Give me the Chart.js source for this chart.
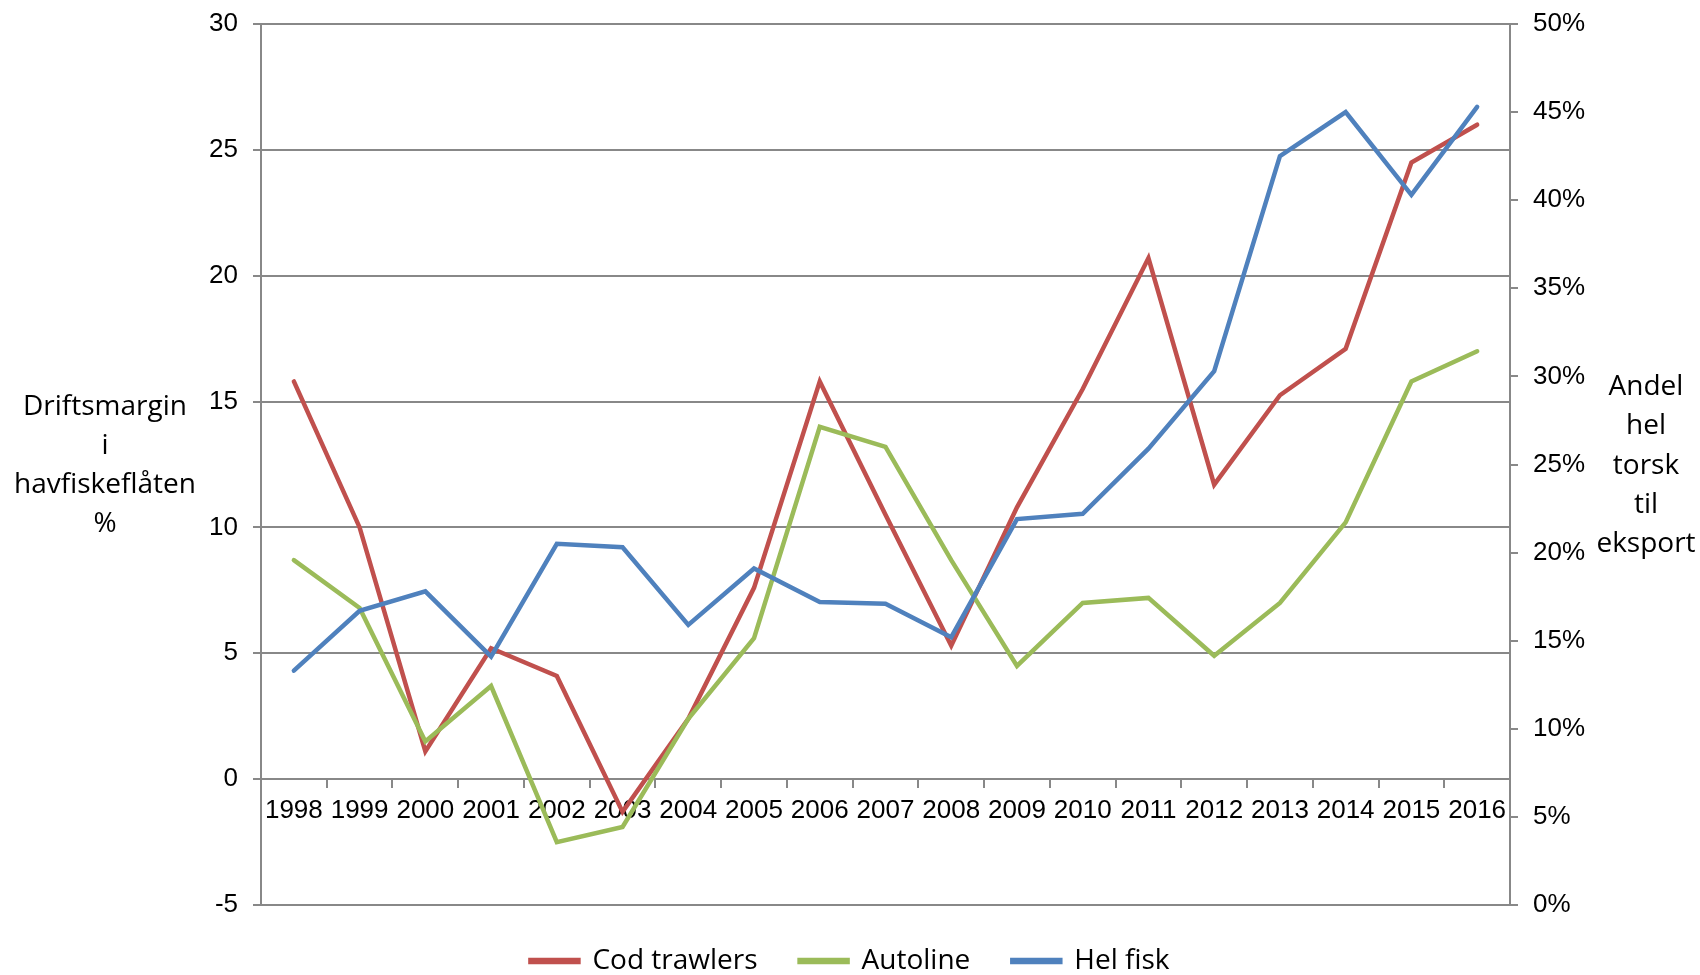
<!DOCTYPE html>
<html>
<head>
<meta charset="utf-8">
<title>Driftsmargin og andel hel torsk</title>
<script src="https://cdn.jsdelivr.net/npm/chart.js@4/dist/chart.umd.min.js"></script>
<style>
  html, body { margin: 0; padding: 0; background: #fff; overflow: hidden; }
  #wrap { width: 1700px; height: 985px; }
</style>
</head>
<body>
<div id="wrap"><canvas id="chart" width="1700" height="985"></canvas></div>
<script>
// --- Data ---
const years = ["1998", "1999", "2000", "2001", "2002", "2003", "2004", "2005", "2006", "2007",
  "2008", "2009", "2010", "2011", "2012", "2013", "2014", "2015", "2016"];

// Driftsmargin (%), left axis
const codTrawlers = [15.8, 10.0, 1.1, 5.2, 4.1, -1.3, 2.4, 7.6, 15.8, 10.5,
  5.3, 10.8, 15.5, 20.7, 11.7, 15.25, 17.1, 24.5, 26.0];
const autoline = [8.7, 6.8, 1.5, 3.7, -2.5, -1.9, 2.4, 5.6, 14.0, 13.2,
  8.7, 4.5, 7.0, 7.2, 4.9, 7.0, 10.2, 15.8, 17.0];

// Andel hel torsk til eksport (%), right axis
const helFisk = [13.3, 16.7, 17.8, 14.1, 20.5, 20.3, 15.9, 19.1, 17.2, 17.1,
  15.2, 21.9, 22.2, 25.9, 30.3, 42.5, 45.0, 40.3, 45.3];

const leftTitle = ["Driftsmargin", "i", "havfiskeflåten", "%"];
const rightTitle = ["Andel", "hel", "torsk", "til", "eksport"];

const gridGray = "#888888";
const tickFont = { family: "'Liberation Sans', Arial, sans-serif", size: 26 };
const textFont = "'Open Sans', 'Noto Sans', sans-serif";

// --- Axis titles (horizontal, stacked lines) ---
const axisTitles = {
  id: "axisTitles",
  afterDraw(chart) {
    const ctx = chart.ctx;
    ctx.save();
    ctx.fillStyle = "#000";
    ctx.font = "28px " + textFont;
    ctx.textAlign = "center";
    ctx.textBaseline = "middle";
    leftTitle.forEach((line, i) => ctx.fillText(line, 105, 407 + i * 39));
    rightTitle.forEach((line, i) => ctx.fillText(line, 1646, 387 + i * 39.3));
    ctx.restore();
  },
};

const lineStyle = (color) => ({
  borderColor: color,
  backgroundColor: color,
  borderWidth: 4.5,
  borderCapStyle: "round",
  pointRadius: 0,
  pointHoverRadius: 0,
  fill: false,
  tension: 0,
});

// keep the y axes from reserving extra room above the top tick
const fitY = (width) => (scale) => {
  scale.width = width;
  scale.paddingTop = 10;
};

new Chart(document.getElementById("chart"), {
  type: "line",
  data: {
    labels: years,
    datasets: [
      { label: "Cod trawlers", data: codTrawlers, yAxisID: "y", order: 2, ...lineStyle("#C0504D") },
      { label: "Autoline", data: autoline, yAxisID: "y", order: 1, ...lineStyle("#9BBB59") },
      { label: "Hel fisk", data: helFisk, yAxisID: "y1", order: 0, ...lineStyle("#4F81BD") },
    ],
  },
  options: {
    responsive: false,
    animation: false,
    layout: { padding: { top: 24, left: 0, right: 0, bottom: 0 } },
    plugins: {
      tooltip: { enabled: false },
      legend: {
        position: "bottom",
        labels: {
          font: { family: textFont, size: 28 },
          color: "#000",
          boxWidth: 48,
          boxHeight: 2,
          padding: 42,
          sort: (a, b) => a.datasetIndex - b.datasetIndex,
        },
      },
    },
    scales: {
      x: {
        position: { y: 0 },
        offset: true,
        grid: { offset: true, drawOnChartArea: false, drawTicks: true, tickLength: 8, color: gridGray, lineWidth: 2 },
        border: { display: true, color: gridGray, width: 2 },
        ticks: { font: tickFont, color: "#000", padding: 8, autoSkip: false, maxRotation: 0 },
        afterFit: (scale) => { scale.height = 0; },
      },
      y: {
        position: "left",
        min: -5,
        max: 30,
        ticks: { stepSize: 5, font: tickFont, color: "#000", padding: 15 },
        grid: { color: gridGray, lineWidth: 2, tickLength: 8 },
        border: { display: true, color: gridGray, width: 2 },
        afterFit: fitY(261),
      },
      y1: {
        position: "right",
        min: 0,
        max: 50,
        ticks: { stepSize: 5, font: tickFont, color: "#000", padding: 15, callback: (v) => v + "%" },
        grid: { drawOnChartArea: false, color: gridGray, lineWidth: 2, tickLength: 8 },
        border: { display: true, color: gridGray, width: 2 },
        afterFit: fitY(190),
      },
    },
  },
  plugins: [axisTitles],
});
</script>
</body>
</html>
